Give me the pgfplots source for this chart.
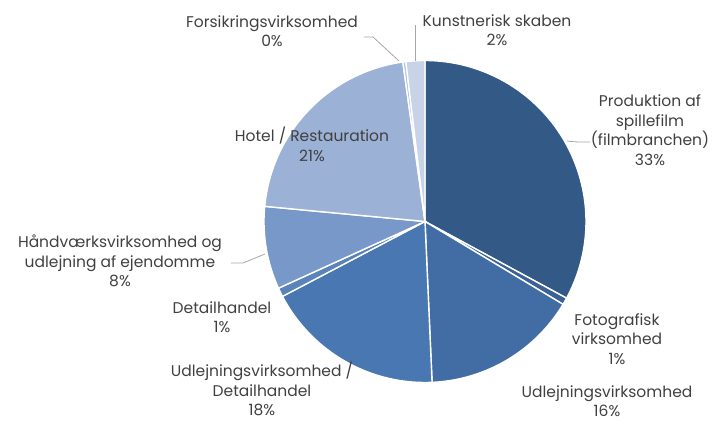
\documentclass[border=0pt]{standalone}
\usepackage{pgfplots}
\pgfplotsset{compat=1.18}
\usepgfplotslibrary{polar}
\usepackage{fontspec}
\setmainfont{Poppins}
\definecolor{cProd}{HTML}{335987}
\definecolor{cFoto}{HTML}{3B6295}
\definecolor{cUdl}{HTML}{416DA4}
\definecolor{cUdlDet}{HTML}{4877B1}
\definecolor{cDet}{HTML}{5A83BA}
\definecolor{cHand}{HTML}{7898C9}
\definecolor{cHotel}{HTML}{9BB1D6}
\definecolor{cFors}{HTML}{B3C2DF}
\definecolor{cKunst}{HTML}{C8D3E8}
\definecolor{txt}{HTML}{404040}
\definecolor{lead}{HTML}{A6A6A6}
% share of each slice in percent, clockwise from the top
\def\cumang{90}
\newcommand\pieslice[2]{%
  \pgfmathsetmacro\endang{\cumang}%
  \pgfmathsetmacro\startang{\cumang-#1*3.6}%
  \xdef\cumang{\startang}%
  \edef\tmp{\noexpand\addplot[fill=#2, draw=white, line width=1.4pt, domain=\startang:\endang, samples=80] {1} -- (axis cs:0,0) -- cycle;}%
  \tmp
}
\begin{document}
\begin{tikzpicture}[x=1pt,y=1pt]
\useasboundingbox (0,0) rectangle (712,423);
\begin{polaraxis}[
  hide axis, scale only axis, width=322pt, height=322pt,
  xmin=0, xmax=360, ymin=0, ymax=1, clip=false,
  at={(425pt,201.5pt)}, anchor=origin]
\pieslice{32.9}{cProd}
\pieslice{0.7}{cFoto}
\pieslice{15.7}{cUdl}
\pieslice{18.0}{cUdlDet}
\pieslice{0.9}{cDet}
\pieslice{8.3}{cHand}
\pieslice{21.3}{cHotel}
\pieslice{0.3}{cFors}
\pieslice{1.9}{cKunst}
\end{polaraxis}
\begin{scope}[every node/.style={font=\fontsize{15.5}{19.5}\selectfont, text=txt, align=center, inner sep=0pt}]
\node at (272,392) {Forsikringsvirksomhed\\0\%};
\node at (497,393) {Kunstnerisk skaben\\2\%};
\node at (650,293) {Produktion af\\spillefilm\\(filmbranchen)\\33\%};
\node at (312,278.5) {Hotel / Restauration\\21\%};
\node at (120,162) {Håndværksvirksomhed og\\udlejning af ejendomme\\8\%};
\node at (222,106) {Detailhandel\\1\%};
\node at (617,84) {Fotografisk\\virksomhed\\1\%};
\node at (607,22) {Udlejningsvirksomhed\\16\%};
\node at (262,34) {Udlejningsvirksomhed /\\Detailhandel\\18\%};
\end{scope}
\draw[lead, line width=0.8pt] (364,386) -- (373,386) -- (399,362);
\draw[lead, line width=0.8pt] (415,398) -- (415,362);
\draw[lead, line width=0.8pt] (567,282) .. controls (575,281) .. (590,281);
\draw[lead, line width=0.8pt] (231,160) -- (243,160) -- (265,169);
\end{tikzpicture}
\end{document}
